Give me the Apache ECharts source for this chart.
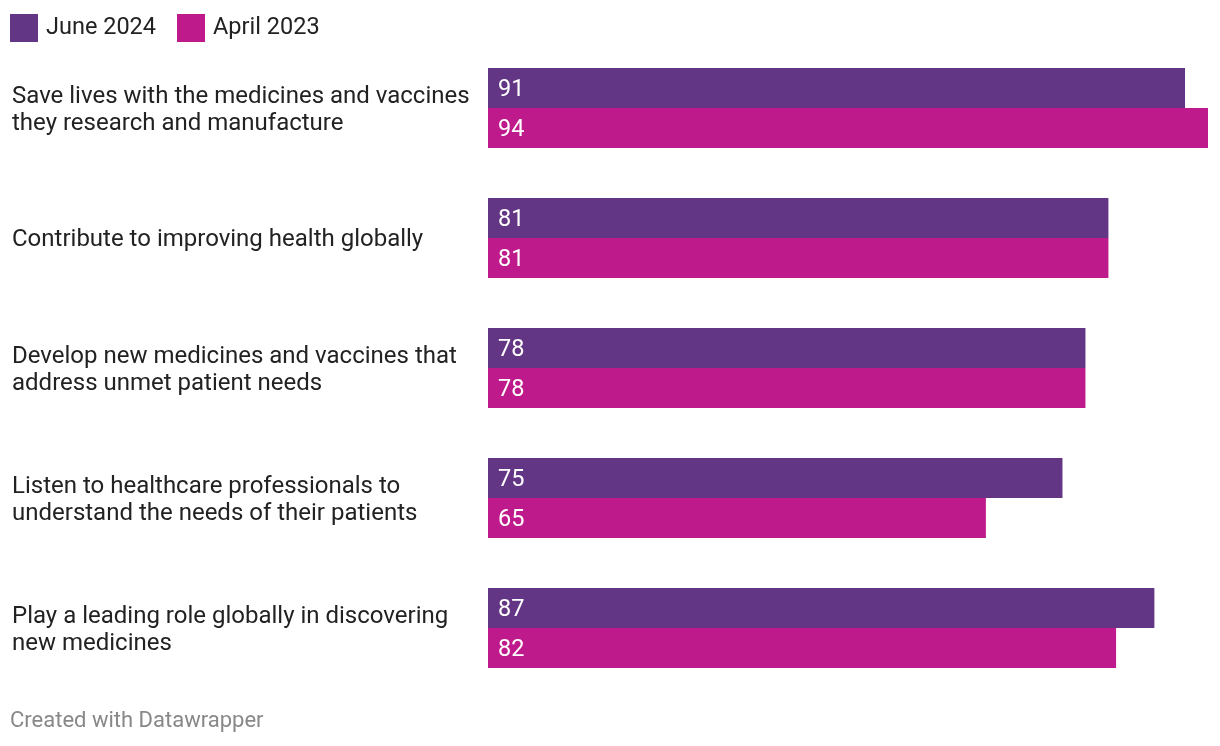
<!DOCTYPE html>
<html><head><meta charset="utf-8">
<script src="https://cdn.jsdelivr.net/npm/echarts@6/dist/echarts.min.js"></script>
<style>html,body{margin:0;padding:0;background:#fff}#c{width:1220px;height:746px}</style>
</head><body><div id="c"></div>
<script>
const categories = [
  "Save lives with the medicines and vaccines\nthey research and manufacture",
  "Contribute to improving health globally",
  "Develop new medicines and vaccines that\naddress unmet patient needs",
  "Listen to healthcare professionals to\nunderstand the needs of their patients",
  "Play a leading role globally in discovering\nnew medicines"
];
const june2024 = [91, 81, 78, 75, 87];
const april2023 = [94, 81, 78, 65, 82];
const seriesNames = ["June 2024", "April 2023"];
const colors = ["#633585", "#be1a8c"];

const chart = echarts.init(document.getElementById('c'));
const labelStyle = {show: true, position: 'insideLeft', distance: 10, offset: [0, 2], color: '#fff', fontSize: 23.5, fontFamily: 'Roboto'};
chart.setOption({
  animation: false,
  color: colors,
  textStyle: {fontFamily: 'Roboto'},
  legend: {
    left: 5, top: 9, itemWidth: 28, itemHeight: 28, itemGap: 21, icon: 'rect',
    textStyle: {fontSize: 23.5, color: '#222', fontFamily: 'Roboto', padding: [0, 0, 0, 3]},
    data: seriesNames
  },
  grid: {left: 488, right: 12, top: 43, bottom: 53, containLabel: false},
  xAxis: {type: 'value', min: 0, max: 94, show: false},
  yAxis: {
    type: 'category', data: categories, inverse: true,
    axisLine: {show: false}, axisTick: {show: false},
    axisLabel: {
      align: 'left', margin: 476, fontSize: 24, color: '#222', fontFamily: 'Roboto',
      formatter: v => '{s| }\n' + v.split('\n').map(s => '{a|' + s + '}').join('\n'),
      rich: {
        s: {fontSize: 1, lineHeight: 4},
        a: {fontSize: 24, color: '#222', fontFamily: 'Roboto', lineHeight: 27}
      }
    }
  },
  series: [
    {name: seriesNames[0], type: 'bar', data: june2024, barGap: '0%', barCategoryGap: '38.46%', label: labelStyle},
    {name: seriesNames[1], type: 'bar', data: april2023, barGap: '0%', barCategoryGap: '38.46%', label: labelStyle}
  ],
  graphic: [{type: 'text', left: 10, top: 710, style: {text: 'Created with Datawrapper', fill: '#888', fontSize: 22, fontFamily: 'Roboto'}}]
});
</script></body></html>
